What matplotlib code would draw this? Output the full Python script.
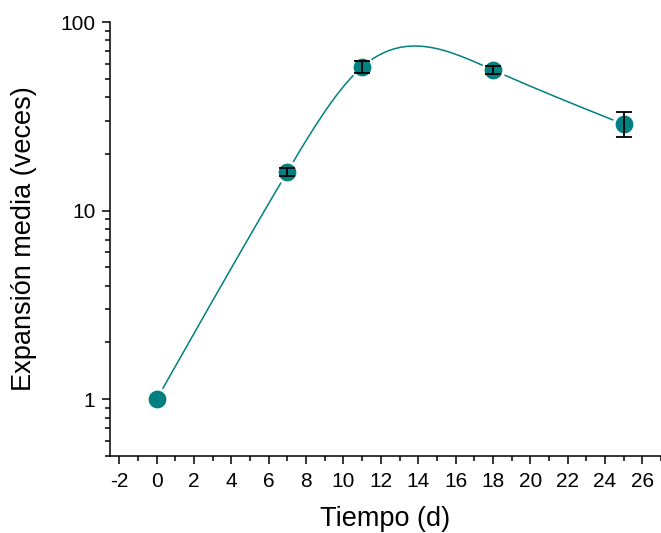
import numpy as np
import matplotlib.pyplot as plt
from matplotlib.ticker import MultipleLocator, LogLocator, FixedLocator, FuncFormatter, NullFormatter

plt.rcParams['font.family'] = ['Liberation Sans', 'DejaVu Sans']
plt.rcParams['axes.unicode_minus'] = False

# datos
tiempo = [0, 7, 11, 18, 25]
expansion = [1.0, 16.1, 57.8, 55.7, 28.7]
# barras de error (el dia 0 no tiene)
t_err = [7, 11, 18, 25]
y_err = [16.1, 57.8, 55.7, 28.7]
err_sup = [16.8, 62.2, 58.6, 33.3]
err_inf = [15.3, 53.7, 53.1, 24.5]

teal = '#008080'


def spline_natural(x, y, xs):
    # spline cubico natural (sin scipy)
    x = np.asarray(x, float)
    y = np.asarray(y, float)
    n = len(x)
    h = np.diff(x)
    A = np.zeros((n, n))
    r = np.zeros(n)
    A[0, 0] = 1
    A[-1, -1] = 1
    for i in range(1, n - 1):
        A[i, i - 1] = h[i - 1]
        A[i, i] = 2 * (h[i - 1] + h[i])
        A[i, i + 1] = h[i]
        r[i] = 6 * ((y[i + 1] - y[i]) / h[i] - (y[i] - y[i - 1]) / h[i - 1])
    M = np.linalg.solve(A, r)
    out = np.empty_like(xs)
    for k, xv in enumerate(xs):
        i = min(max(np.searchsorted(x, xv) - 1, 0), n - 2)
        t1 = x[i + 1] - xv
        t0 = xv - x[i]
        out[k] = (M[i] * t1**3 + M[i + 1] * t0**3) / (6 * h[i]) \
            + (y[i] / h[i] - M[i] * h[i] / 6) * t1 \
            + (y[i + 1] / h[i] - M[i + 1] * h[i] / 6) * t0
    return out


xs = np.linspace(tiempo[0], tiempo[-1], 400)
ys = 10 ** spline_natural(tiempo, np.log10(expansion), xs)

fig = plt.figure(figsize=(6.61, 5.33), dpi=100)
ax = fig.add_axes([110 / 661, 1 - 456 / 533, 551 / 661, (456 - 22) / 533])

ax.plot(xs, ys, color=teal, lw=1.1, zorder=2)
ax.plot(tiempo, expansion, 'o', ms=15, mfc=teal, mec='white', mew=2.2, zorder=3)
yerr = [np.array(y_err) - np.array(err_inf), np.array(err_sup) - np.array(y_err)]
ax.errorbar(t_err, y_err, yerr=yerr, fmt='none', ecolor='black',
            elinewidth=1.3, capsize=5.8, capthick=1.3, zorder=4)

ax.set_yscale('log')
ax.set_ylim(0.5, 100)
ax.set_xlim(-2.5, 27)

ax.xaxis.set_major_locator(MultipleLocator(2))
ax.xaxis.set_minor_locator(MultipleLocator(1))
ax.yaxis.set_major_locator(FixedLocator([1, 10, 100]))
ax.yaxis.set_major_formatter(FuncFormatter(lambda v, p: '%g' % v))
ax.yaxis.set_minor_locator(LogLocator(base=10, subs=np.arange(2, 10)))
ax.yaxis.set_minor_formatter(NullFormatter())

for s in ['top', 'right']:
    ax.spines[s].set_visible(False)
for s in ['left', 'bottom']:
    ax.spines[s].set_linewidth(1.1)

ax.tick_params(which='major', direction='out', length=5.5, width=1.1, labelsize=15)
ax.tick_params(which='minor', direction='out', length=3.6, width=1.1)
ax.tick_params(axis='x', which='major', pad=6)
ax.tick_params(axis='y', which='major', pad=5)

ax.set_xlabel('Tiempo (d)', fontsize=19.5, labelpad=11)
ax.set_ylabel('Expansión media (veces)', fontsize=19.5, labelpad=17)

fig.savefig('out.png', dpi=100)
